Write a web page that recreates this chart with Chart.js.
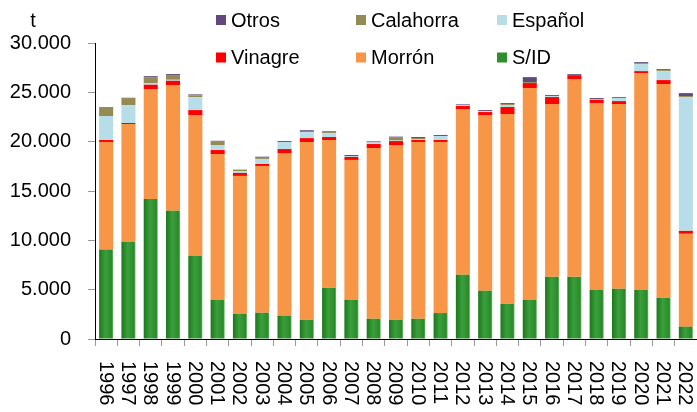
<!DOCTYPE html>
<html>
<head>
<meta charset="utf-8">
<script src="https://cdn.jsdelivr.net/npm/chart.js@4.4.1/dist/chart.umd.min.js"></script>
<style>
html,body{margin:0;padding:0;background:#fff;}
#wrap{width:697px;height:412px;position:relative;}
</style>
</head>
<body>
<div id="wrap"><canvas id="c" width="697" height="412"></canvas></div>
<script>
const years = ['1996','1997','1998','1999','2000','2001','2002','2003','2004','2005','2006','2007','2008','2009','2010','2011','2012','2013','2014','2015','2016','2017','2018','2019','2020','2021','2022'];
const sid =       [9070, 9850, 14200, 12990, 8430, 3980, 2560, 2660, 2360, 1950, 5190, 3980, 2050, 1950, 2050, 2630, 6510, 4890, 3570, 3980, 6300, 6300, 4990, 5090, 4990, 4180, 1250];
const morron =    [10900, 11940, 11130, 12750, 14270, 14770, 13970, 14880, 16490, 18010, 14980, 14170, 17310, 17710, 17920, 17340, 16800, 17810, 19230, 21450, 17510, 20040, 18920, 18720, 21960, 21660, 9410];
const vinagre =   [200, 100, 440, 430, 500, 400, 300, 200, 400, 400, 300, 300, 400, 400, 200, 200, 300, 300, 710, 510, 710, 400, 340, 300, 200, 400, 300];
const espanol =   [2430, 1820, 170, 100, 1320, 510, 170, 510, 710, 600, 400, 100, 170, 50, 50, 400, 70, 100, 200, 0, 100, 0, 70, 300, 710, 910, 13560];
const calahorra = [840, 710, 600, 480, 170, 400, 130, 200, 0, 50, 100, 0, 0, 300, 150, 0, 0, 0, 100, 100, 0, 0, 0, 0, 100, 100, 100];
const otros =     [70, 30, 100, 100, 100, 30, 30, 30, 100, 150, 80, 100, 100, 100, 100, 100, 100, 100, 100, 500, 100, 100, 100, 100, 100, 100, 300];
const yTicks = [0, 5000, 10000, 15000, 20000, 25000, 30000];
const unitLabel = 't';

const FONT = "'Liberation Sans', Arial, sans-serif";
Chart.defaults.font.family = FONT;
Chart.defaults.font.size = 20;
Chart.defaults.color = '#000';

const BAR_PCT = 0.63;

function greenFill(c) {
  const ch = c.chart;
  const xs = ch.scales && ch.scales.x;
  if (!xs || c.dataIndex === undefined || !ch.chartArea) return '#2e8f2e';
  const cx = xs.getPixelForValue(c.dataIndex);
  const w = (xs.width / years.length) * BAR_PCT;
  const g = ch.ctx.createLinearGradient(cx - w / 2, 0, cx + w / 2, 0);
  g.addColorStop(0, '#1c781c');
  g.addColorStop(0.45, '#3b9f3b');
  g.addColorStop(0.9, '#2a8a2a');
  g.addColorStop(1, '#74bd74');
  return g;
}

function ds(label, data, color, legendColor) {
  return { label, data, backgroundColor: color, legendColor: legendColor || color, borderWidth: 0,
           barPercentage: BAR_PCT, categoryPercentage: 1.0, stack: 's' };
}

const datasets = [
  ds('S/ID', sid, greenFill, '#2e8f2e'),
  ds('Morrón', morron, '#F79646'),
  ds('Vinagre', vinagre, '#FF0000'),
  ds('Español', espanol, '#B7DDE8'),
  ds('Calahorra', calahorra, '#948A54'),
  ds('Otros', otros, '#604A7B')
];

const customDraw = {
  id: 'customDraw',
  afterDraw(chart) {
    const ctx = chart.ctx;
    const xs = chart.scales.x;
    ctx.save();
    ctx.fillStyle = '#000';
    ctx.font = '20px ' + FONT;
    // unit label
    ctx.textAlign = 'center';
    ctx.textBaseline = 'middle';
    ctx.fillText(unitLabel, 33, 21);
    // rotated x labels (clockwise)
    years.forEach((y, i) => {
      const x = xs.getPixelForValue(i);
      ctx.save();
      ctx.translate(x - 1, xs.top + 22);
      ctx.rotate(Math.PI / 2);
      ctx.textAlign = 'left';
      ctx.textBaseline = 'middle';
      ctx.fillText(y, 0, 0);
      ctx.restore();
    });
    // legend
    const items = chart.data.datasets.slice().reverse();
    const colX = [216, 356, 497];
    const rowY = [20, 57.5];
    items.forEach((d, k) => {
      const col = k % 3, row = Math.floor(k / 3);
      const sx = colX[col], sy = rowY[row];
      ctx.fillStyle = d.legendColor;
      ctx.fillRect(sx, sy - 5, 10, 10);
      ctx.fillStyle = '#000';
      ctx.textAlign = 'left';
      ctx.textBaseline = 'middle';
      ctx.fillText(d.label, sx + 15, sy + 1);
    });
    ctx.restore();
  }
};

new Chart(document.getElementById('c'), {
  type: 'bar',
  data: { labels: years, datasets },
  plugins: [customDraw],
  options: {
    responsive: false,
    animation: false,
    devicePixelRatio: 1,
    layout: { padding: { top: 43, left: 0, right: 0, bottom: 0 } },
    plugins: { legend: { display: false }, tooltip: { enabled: false } },
    scales: {
      x: {
        stacked: true,
        offset: true,
        grid: { display: true, offset: true, drawOnChartArea: false, drawTicks: true, tickLength: 7, color: '#999' },
        border: { display: true, color: '#000', width: 1 },
        ticks: { display: false },
        afterFit(scale) { scale.height = 73; }
      },
      y: {
        stacked: true,
        min: 0,
        max: 30000,
        afterBuildTicks(scale) { scale.ticks = yTicks.map(v => ({ value: v })); },
        grid: { display: true, drawOnChartArea: false, drawTicks: true, tickLength: 7, color: '#999' },
        border: { display: true, color: '#000', width: 1 },
        ticks: {
          padding: 17,
          font: { size: 20 },
          color: '#000',
          callback: (v) => String(v).replace(/\B(?=(\d{3})+(?!\d))/g, '.')
        },
        afterFit(scale) { scale.width = 95; }
      }
    }
  }
});
</script>
</body>
</html>
